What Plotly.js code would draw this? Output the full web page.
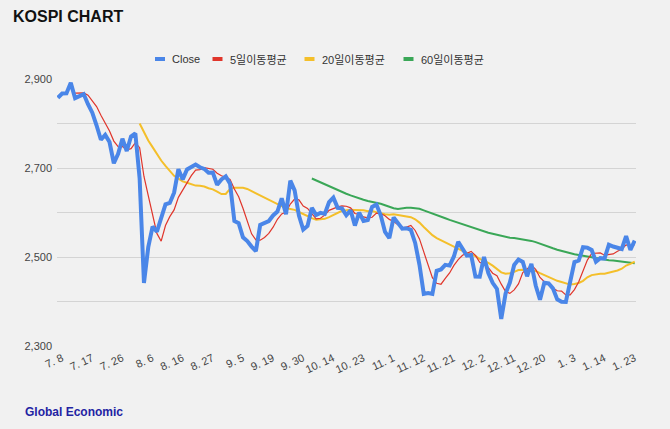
<!DOCTYPE html>
<html>
<head>
<meta charset="utf-8">
<script src="https://cdn.plot.ly/plotly-3.0.1.min.js"></script>
<style>html,body{margin:0;padding:0;background:#f1f1f1;}#chart{width:670px;height:429px;}</style>
</head>
<body>
<div id="chart"></div>
<script>
// Trading days (Jul 8, 2024 – Jan 24, 2025)
const dates = [
 '7.8','7.9','7.10','7.11','7.12','7.15','7.16','7.17','7.18','7.19','7.22','7.23','7.24','7.25','7.26','7.29','7.30','7.31',
 '8.1','8.2','8.5','8.6','8.7','8.8','8.9','8.12','8.13','8.14','8.16','8.19','8.20','8.21','8.22','8.23','8.26','8.27','8.28','8.29','8.30',
 '9.2','9.3','9.4','9.5','9.6','9.9','9.10','9.11','9.12','9.13','9.19','9.20','9.23','9.24','9.25','9.26','9.27','9.30',
 '10.2','10.4','10.7','10.8','10.10','10.11','10.14','10.15','10.16','10.17','10.18','10.21','10.22','10.23','10.24','10.25','10.28','10.29','10.30','10.31',
 '11.1','11.4','11.5','11.6','11.7','11.8','11.11','11.12','11.13','11.14','11.15','11.18','11.19','11.20','11.21','11.22','11.25','11.26','11.27','11.28','11.29',
 '12.2','12.3','12.4','12.5','12.6','12.9','12.10','12.11','12.12','12.13','12.16','12.17','12.18','12.19','12.20','12.23','12.24','12.26','12.27','12.30',
 '1.2','1.3','1.6','1.7','1.8','1.9','1.10','1.13','1.14','1.15','1.16','1.17','1.20','1.21','1.22','1.23','1.24'
];

const close = [
 2857.76,2867.38,2867.99,2891.35,2857.00,2860.92,2866.09,2843.38,2824.35,2795.46,2763.51,2774.35,2758.41,2710.65,2731.90,2765.87,2738.19,2770.69,
 2777.68,2676.19,2441.55,2522.15,2568.41,2556.73,2588.43,2618.30,2621.50,2644.50,2697.23,2674.36,2696.63,2701.13,2707.67,2701.69,2698.01,2689.25,2689.83,2662.28,2674.31,
 2681.00,2664.63,2580.80,2576.20,2544.28,2535.93,2523.43,2513.37,2572.09,2575.41,2580.80,2593.37,2602.01,2631.68,2596.32,2671.57,2649.78,2593.27,
 2561.69,2569.71,2610.38,2594.36,2599.16,2596.91,2623.27,2633.45,2610.36,2609.30,2593.82,2604.88,2570.70,2599.62,2581.03,2583.27,2612.43,2617.80,2593.79,2556.15,
 2542.36,2588.97,2576.88,2563.51,2564.63,2561.15,2531.66,2482.57,2417.08,2418.86,2416.86,2469.07,2471.95,2482.28,2480.63,2501.24,2534.34,2520.36,2503.06,2504.67,2455.91,
 2455.89,2500.10,2464.00,2441.85,2428.16,2360.58,2417.84,2442.51,2482.12,2494.46,2488.97,2456.81,2484.43,2435.93,2404.15,2442.01,2440.52,2429.67,2404.77,2399.49,
 2398.94,2441.92,2488.64,2492.10,2521.90,2521.05,2515.78,2489.56,2497.42,2496.80,2527.49,2523.55,2520.05,2518.03,2547.06,2515.78,2536.80
];

// 5-day moving average (from 7.12)
const ma5 = [
 2868.3,2868.9,2868.7,2863.8,2850.4,2838.1,2818.6,2800.2,2783.2,2760.5,
 2747.8,2748.3,2741.0,2743.5,2756.9,2745.7,2680.9,2637.7,2597.2,2553.0,
 2535.5,2570.8,2590.7,2605.9,2634.0,2651.2,2666.8,2682.8,2695.4,2696.3,
 2701.0,2699.6,2697.3,2688.2,2682.7,2679.3,2674.4,2652.6,2635.4,2609.4,
 2580.4,2552.1,2538.6,2537.8,2544.0,2553.0,2567.0,2584.7,2596.7,2600.8,
 2619.0,2630.3,2628.5,2614.5,2609.2,2597.0,2585.9,2587.1,2594.1,2604.8,
 2609.5,2612.7,2614.7,2614.1,2610.4,2597.8,2595.7,2590.0,2587.9,2589.4,
 2598.8,2597.7,2592.7,2584.5,2579.8,2571.7,2565.6,2567.3,2571.0,2559.6,
 2540.7,2511.4,2482.3,2453.4,2440.9,2438.8,2451.8,2464.2,2481.0,2494.1,
 2503.8,2507.9,2512.7,2503.7,2488.0,2483.9,2476.1,2463.6,2458.0,2439.0,
 2422.5,2418.2,2426.2,2439.5,2465.2,2473.0,2481.4,2472.1,2454.1,2444.7,
 2441.4,2430.5,2424.2,2423.3,2414.7,2415.0,2426.7,2444.2,2468.7,2493.1,
 2507.9,2508.1,2509.2,2504.1,2505.4,2507.0,2513.1,2517.2,2527.3,2524.9,2527.6
];

// 20-day moving average (from 8.2)
const ma20 = [
 2800.0,2779.2,2761.9,2746.9,2730.2,2716.8,2704.6,2692.4,2682.5,2676.1,
 2670.0,2666.7,2663.0,2660.5,2660.0,2658.4,2654.5,2652.1,2646.7,2641.5,
 2641.8,2652.9,2655.8,2656.2,2655.6,2653.0,2648.2,2642.8,2639.2,2633.1,
 2628.4,2623.3,2618.3,2614.5,2609.3,2607.9,2606.0,2601.1,2596.1,2590.9,
 2587.3,2583.8,2584.8,2585.8,2589.7,2594.6,2599.0,2603.8,2604.8,2606.3,
 2605.8,2606.1,2605.1,2602.7,2603.5,2600.8,2598.0,2596.1,2595.2,2596.1,
 2594.4,2592.9,2591.2,2589.4,2584.8,2577.3,2567.6,2558.1,2549.2,2542.4,
 2537.5,2531.6,2526.6,2522.5,2518.6,2513.7,2509.2,2506.6,2502.3,2495.6,
 2491.8,2486.8,2480.7,2474.0,2465.5,2462.2,2463.5,2466.7,2470.6,2471.6,
 2470.8,2470.9,2468.7,2463.8,2459.2,2455.2,2451.5,2446.5,2443.7,2440.9,
 2438.0,2439.2,2441.7,2446.4,2454.4,2459.3,2461.7,2462.4,2462.5,2464.5,
 2467.8,2469.6,2473.7,2480.8,2484.5,2489.4
];

// 60-day moving average (from 10.7)
const ma60 = [
 2676.4,2672.0,2667.5,2663.0,2658.5,2654.8,2650.6,2646.3,2642.2,2638.5,
 2634.8,2632.0,2628.8,2625.9,2624.3,2622.4,2619.5,2616.4,2612.6,2609.5,
 2607.8,2609.9,2610.6,2610.5,2610.0,2608.3,2604.9,2601.6,2597.8,2594.0,
 2590.6,2587.0,2583.3,2579.9,2577.1,2574.1,2571.0,2568.0,2564.5,2560.9,
 2557.9,2554.5,2552.2,2549.7,2546.7,2544.7,2543.4,2542.8,2541.5,2540.1,
 2538.0,2536.2,2533.5,2529.7,2527.1,2523.2,2519.6,2516.4,2513.7,2510.9,
 2508.1,2506.3,2504.5,2503.3,2501.6,2499.6,2497.6,2495.7,2494.1,2492.8,
 2492.0,2490.7,2489.7,2489.1,2487.4,2486.1
];

const tickDates  = ['7.8','7.17','7.26','8.6','8.16','8.27','9.5','9.19','9.30','10.14','10.23','11.1','11.12','11.21','12.2','12.11','12.20','1.3','1.14','1.23'];
const tickLabels = ['7. 8','7. 17','7. 26','8. 6','8. 16','8. 27','9. 5','9. 19','9. 30','10. 14','10. 23','11. 1','11. 12','11. 21','12. 2','12. 11','12. 20','1. 3','1. 14','1. 23'];
const yTicks = [2300,2400,2500,2600,2700,2800,2900];
const yTickText = ['2,300','','2,500','','2,700','','2,900'];

const seriesNames = ['Close','5일이동평균','20일이동평균','60일이동평균'];
const colors = ['#4a86e8','#e0352b','#f4bf2a','#3aa757'];

const FONT = 'Liberation Sans, Arial, Noto Sans CJK KR, sans-serif';
const L = 57, R = 34, T = 79, B = 83;
const W = 670, H = 429;
const pw = W - L - R, ph = H - T - B;
const px = v => (v - L) / pw;
const py = v => (H - B - v) / ph;

const traces = [
  {x: dates, y: close, name: seriesNames[0], type: 'scatter', mode: 'lines', line: {color: colors[0], width: 4}},
  {x: dates.slice(dates.length - ma5.length), y: ma5, name: seriesNames[1], type: 'scatter', mode: 'lines', line: {color: colors[1], width: 1.2}},
  {x: dates.slice(dates.length - ma20.length), y: ma20, name: seriesNames[2], type: 'scatter', mode: 'lines', line: {color: colors[2], width: 2}},
  {x: dates.slice(dates.length - ma60.length), y: ma60, name: seriesNames[3], type: 'scatter', mode: 'lines', line: {color: colors[3], width: 2}}
];
// draw Close on top
const ordered = [traces[3], traces[2], traces[1], traces[0]];

const legendSw = [160, 217.5, 309.5, 408.5];
const legendTx = [171, 229, 321, 420];
const legY = 59;

const shapes = legendSw.map((c, i) => ({
  type: 'rect', xref: 'paper', yref: 'paper',
  x0: px(c - 5), x1: px(c + 5), y0: py(legY + 2), y1: py(legY - 2),
  fillcolor: colors[i], line: {width: 0}
}));

const annotations = legendTx.map((t, i) => ({
  text: seriesNames[i], xref: 'paper', yref: 'paper', x: px(t - 1), y: py(legY),
  xanchor: 'left', yanchor: 'middle', showarrow: false,
  font: {family: FONT, size: 11, color: '#333'}
}));
annotations.push({
  text: '<b>Global Economic</b>', xref: 'paper', yref: 'paper', x: px(23), y: py(412),
  xanchor: 'left', yanchor: 'middle', showarrow: false,
  font: {family: FONT, size: 12, color: '#2323a3'}
});

const layout = {
  width: W, height: H,
  paper_bgcolor: '#f1f1f1', plot_bgcolor: '#f1f1f1',
  margin: {l: L, r: R, t: T, b: B, pad: 0},
  showlegend: false,
  title: {
    text: '<b>KOSPI CHART</b>', xref: 'container', yref: 'container',
    x: 13 / W, xanchor: 'left', y: 1 - 16 / H, yanchor: 'middle',
    font: {family: FONT, size: 16, color: '#111'}
  },
  xaxis: {
    type: 'category', categoryorder: 'array', categoryarray: dates,
    range: [-0.2, 134.3],
    tickmode: 'array', tickvals: tickDates, ticktext: tickLabels,
    tickangle: -25, showgrid: false, zeroline: false, showline: false, ticks: '',
    ticklabelshift: 4, ticklabelstandoff: 3,
    tickfont: {family: FONT, size: 11, color: '#444'}
  },
  yaxis: {
    range: [2300, 2900], tickmode: 'array', tickvals: yTicks, ticktext: yTickText,
    showgrid: true, gridcolor: '#d4d4d4', gridwidth: 1, zeroline: false, showline: false, ticks: '',
    ticklabelstandoff: 4,
    tickfont: {family: FONT, size: 11, color: '#444'}
  },
  shapes: shapes,
  annotations: annotations
};

Plotly.newPlot('chart', ordered, layout, {displayModeBar: false, staticPlot: true});
</script>
</body>
</html>
